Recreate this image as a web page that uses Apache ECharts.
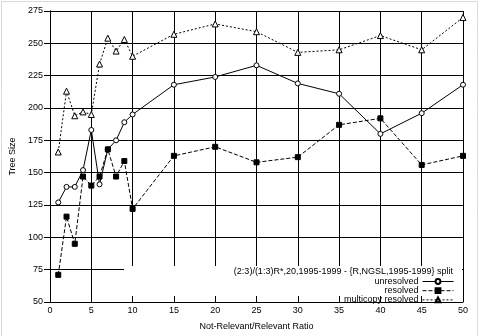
<!DOCTYPE html>
<html>
<head>
<meta charset="utf-8">
<script src="https://cdn.jsdelivr.net/npm/echarts@6/dist/echarts.min.js"></script>
<style>html,body{margin:0;padding:0;background:#fff}#c{width:480px;height:336px}</style>
</head>
<body>
<div id="c"></div>
<script>
const ratios = [1,2,3,4,5,6,7,8,9,10,15,20,25,30,35,40,45,50];
const unresolved = [127,139,139,152,183,141,168,175,189,195,218,224,233,219,211,180,196,218];
const resolved = [71,116,95,147,140,147,168,147,159,122,163,170,158,162,187,192,156,163];
const multicopy = [166,213,194,197,195,234,254,244,253,240,257,265,259,243,245,256,245,270];
const xTicks = [0,50,5];
const yTicks = [50,275,25];
const legendTitle = '(2:3)/(1:3)R*,20,1995-1999 - {R,NGSL,1995-1999} split';
const seriesNames = ['unresolved','resolved','multicopy resolved'];

const FONT = 'Liberation Sans';
const pair = (xs, ys) => xs.map((x, i) => [x, ys[i]]);
const chart = echarts.init(document.getElementById('c'), null, {renderer: 'canvas'});
const grid = {left: 42, top: 11, width: 421, height: 298};
const lineC = '#000';
chart.setOption({
  animation: false,
  backgroundColor: '#fff',
  textStyle: {fontFamily: FONT},
  grid: grid,
  xAxis: [{
    type: 'value', position: 'bottom', min: xTicks[0], max: xTicks[1], interval: xTicks[2], z: 5,
    name: 'Not-Relevant/Relevant Ratio', nameLocation: 'middle', nameGap: 20,
    nameTextStyle: {fontFamily: FONT, fontSize: 9, color: '#000'},
    axisLine: {show: true, lineStyle: {color: lineC, width: 1}},
    axisTick: {show: true, inside: true, length: 6, lineStyle: {color: lineC}},
    axisLabel: {fontFamily: FONT, fontSize: 9, color: '#000', margin: 4},
    splitLine: {show: false}
  }, {
    type: 'value', position: 'top', min: xTicks[0], max: xTicks[1], interval: xTicks[2], z: 0,
    axisLine: {show: true, lineStyle: {color: lineC, width: 1}},
    axisTick: {show: false},
    axisLabel: {show: false},
    splitLine: {show: true, lineStyle: {color: lineC, width: 1}}
  }],
  yAxis: [{
    type: 'value', position: 'left', min: yTicks[0], max: yTicks[1], interval: yTicks[2], z: 0,
    name: 'Tree Size', nameLocation: 'middle', nameGap: 33, nameRotate: 90,
    nameTextStyle: {fontFamily: FONT, fontSize: 9, color: '#000'},
    axisLine: {show: true, lineStyle: {color: lineC, width: 1}},
    axisTick: {show: false},
    axisLabel: {fontFamily: FONT, fontSize: 9, color: '#000', margin: 7},
    splitLine: {show: true, lineStyle: {color: lineC, width: 1}}
  }, {
    type: 'value', position: 'right', min: yTicks[0], max: yTicks[1], interval: yTicks[2], z: 5,
    axisLine: {show: true, lineStyle: {color: lineC, width: 1}},
    axisTick: {show: true, inside: true, length: 6, lineStyle: {color: lineC}},
    axisLabel: {show: false},
    splitLine: {show: false}
  }],
  graphic: [
    {type: 'rect', z: 1, silent: true, shape: {x: 124, y: 266, width: 338, height: 37}, style: {fill: '#fff'}},
    {type: 'text', z: 6, silent: true, style: {text: legendTitle, x: 453, y: 272, align: 'right', verticalAlign: 'middle', font: '9px ' + FONT, fill: '#000'}},
    {type: 'rect', z: 10, silent: true, shape: {x: 1.5, y: 1.5, width: 476, height: 345}, style: {fill: 'none', stroke: '#b5b5b5', lineWidth: 1, lineDash: [1, 1]}}
  ],
  legend: {
    orient: 'vertical', right: 26, top: 277, align: 'right', z: 6,
    itemWidth: 31, itemHeight: 6, itemGap: 0.2,
    padding: 0,
    lineStyle: {width: 1},
    textStyle: {fontFamily: FONT, fontSize: 9, color: '#000', lineHeight: 9, padding: [0, -1, 0, 0]},
    data: seriesNames
  },
  series: [{
    name: seriesNames[0], type: 'line', data: pair(ratios, unresolved), z: 3,
    symbol: 'circle', symbolSize: 5,
    itemStyle: {color: '#fff', borderColor: '#000', borderWidth: 1},
    lineStyle: {color: '#000', width: 1, type: 'solid'}
  }, {
    name: seriesNames[1], type: 'line', data: pair(ratios, resolved), z: 3,
    symbol: 'rect', symbolSize: 5,
    itemStyle: {color: '#000', borderColor: '#000', borderWidth: 1},
    lineStyle: {color: '#000', width: 1, type: [4, 2]}
  }, {
    name: seriesNames[2], type: 'line', data: pair(ratios, multicopy), z: 3,
    symbol: 'triangle', symbolSize: 6,
    itemStyle: {color: '#fff', borderColor: '#000', borderWidth: 1},
    lineStyle: {color: '#000', width: 1, type: [2, 2]}
  }]
});
</script>
</body>
</html>
